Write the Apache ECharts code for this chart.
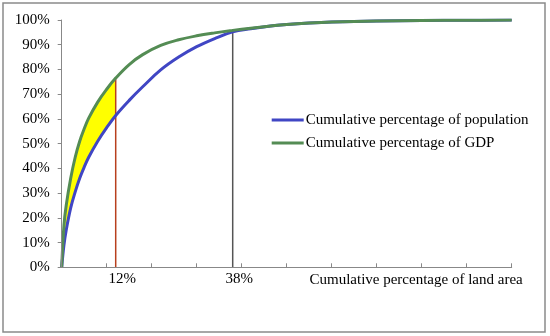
<!DOCTYPE html>
<html>
<head>
<meta charset="utf-8">
<script src="https://cdn.jsdelivr.net/npm/echarts@6/dist/echarts.min.js"></script>
<style>
html,body{margin:0;padding:0;background:#fff;}
#c{width:550px;height:336px;}
</style>
</head>
<body>
<div id="c"></div>
<script>
// Cumulative percentage of land area (x)
var land = [0, 0.5, 1, 2, 3, 4, 5, 6, 8, 10, 12, 15, 18, 22, 26, 30, 34, 38, 42, 46, 50, 55, 60, 70, 80, 90, 100];
// Cumulative percentage of population
var population = [0, 9, 15, 24, 30.5, 36, 40.5, 44.5, 51, 56.5, 61.4, 67.5, 73, 79.8, 85, 89.2, 92.5, 95.2, 96.5, 97.5, 98.2, 98.8, 99.2, 99.6, 99.8, 99.9, 100];
// Cumulative percentage of GDP
var gdp = [0, 17, 25, 36, 44.5, 51, 56, 60.3, 66.8, 72, 76.5, 82, 86, 89.7, 92, 93.6, 94.8, 95.8, 96.7, 97.5, 98.2, 98.8, 99.2, 99.6, 99.8, 99.9, 100];
// marked land shares
var markLand = [12, 38];
var seriesNames = ['Cumulative percentage of population', 'Cumulative percentage of GDP'];
var xAxisName = 'Cumulative percentage of land area';

var FONT = '"Liberation Serif", "Times New Roman", serif';
var SMOOTH = 0.4;

function pairs(xs, ys) { return xs.map(function (x, i) { return [x, ys[i]]; }); }
var redIdx = land.indexOf(markLand[0]);
var grayIdx = land.indexOf(markLand[1]);
var gdpFill = pairs(land, gdp).slice(0, redIdx + 1);
var popFill = pairs(land, population).slice(0, redIdx + 1);

var chart = echarts.init(document.getElementById('c'), null, {renderer: 'canvas'});
chart.setOption({
  animation: false,
  backgroundColor: '#fff',
  graphic: [{
    type: 'rect', shape: {x: 3, y: 3, width: 542, height: 329},
    style: {fill: 'none', stroke: '#8a8a8a', lineWidth: 1.5}, silent: true
  }],
  grid: {left: 61.7, right: 38.3, top: 20, bottom: 68.7, containLabel: false},
  legend: {
    orient: 'vertical', left: 266.7, top: 107.5, padding: 5,
    itemWidth: 32, itemHeight: 3, itemGap: 8, icon: 'rect',
    data: seriesNames,
    textStyle: {fontFamily: FONT, fontSize: 15, color: '#000', padding: [0, 0, 0, -3]}
  },
  xAxis: {
    type: 'value', min: 0, max: 100, interval: 10, z: 10,
    name: xAxisName, nameLocation: 'end', nameGap: 11,
    nameTextStyle: {fontFamily: FONT, fontSize: 15, color: '#000', align: 'right', verticalAlign: 'top', padding: [5, 0, 0, 0]},
    axisLine: {lineStyle: {color: '#888', width: 1}},
    axisTick: {show: true, inside: true, length: 4, lineStyle: {color: '#888'}},
    axisLabel: {
      customValues: markLand, formatter: '{value}%', margin: 4,
      fontFamily: FONT, fontSize: 15, color: '#000', padding: [0, 0, 0, 13]
    },
    splitLine: {show: false}
  },
  yAxis: {
    type: 'value', min: 0, max: 100, interval: 10, z: 10,
    axisLine: {show: true, lineStyle: {color: '#888', width: 1}},
    axisTick: {show: true, length: 4, lineStyle: {color: '#888'}},
    axisLabel: {formatter: '{value}%', margin: 12, fontFamily: FONT, fontSize: 15, color: '#000'},
    splitLine: {show: false}
  },
  series: [
    {
      name: 'gdpFill', type: 'line', data: gdpFill, smooth: SMOOTH,
      showSymbol: false, lineStyle: {opacity: 0}, areaStyle: {color: '#ffff00', opacity: 1}, silent: true, z: 1
    },
    {
      name: 'popFill', type: 'line', data: popFill, smooth: SMOOTH,
      showSymbol: false, lineStyle: {opacity: 0}, areaStyle: {color: '#ffffff', opacity: 1}, silent: true, z: 1
    },
    {
      name: 'redMark', type: 'line', data: [[land[redIdx], 0], [land[redIdx], gdp[redIdx]]],
      showSymbol: false, lineStyle: {color: '#b8401e', width: 1.5}, z: 2
    },
    {
      name: 'grayMark', type: 'line', data: [[land[grayIdx], 0], [land[grayIdx], gdp[grayIdx]]],
      showSymbol: false, lineStyle: {color: '#555', width: 1.5}, z: 2
    },
    {
      name: seriesNames[0], type: 'line', data: pairs(land, population), smooth: SMOOTH,
      showSymbol: false, color: '#4046c4', lineStyle: {color: '#4046c4', width: 3}, z: 3
    },
    {
      name: seriesNames[1], type: 'line', data: pairs(land, gdp), smooth: SMOOTH,
      showSymbol: false, color: '#548c54', lineStyle: {color: '#548c54', width: 3}, z: 4
    }
  ]
});
</script>
</body>
</html>
